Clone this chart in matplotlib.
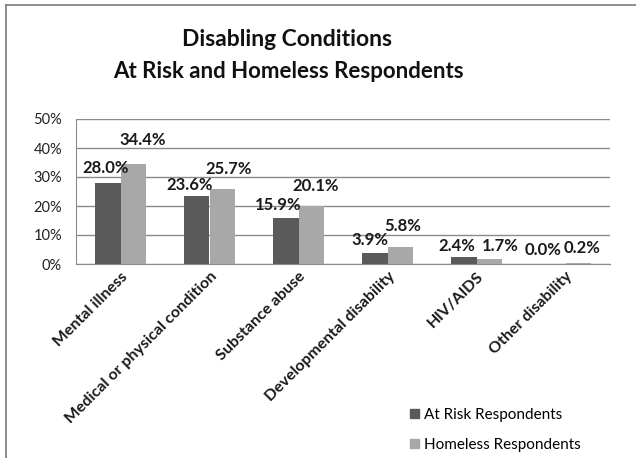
import matplotlib.pyplot as plt
import numpy as np
from matplotlib.lines import Line2D
from matplotlib.patches import Rectangle

categories = ["Mental illness", "Medical or physical condition", "Substance abuse",
              "Developmental disability", "HIV/AIDS", "Other disability"]
at_risk = [28.0, 23.6, 15.9, 3.9, 2.4, 0.0]
homeless = [34.4, 25.7, 20.1, 5.8, 1.7, 0.2]
series_names = ["At Risk Respondents", "Homeless Respondents"]
yticks = [0, 10, 20, 30, 40, 50]

# label nudges in pixels (dx, dy) -- Excel had them hand-placed
dark_nudge = [(-2, 5), (-7, 1), (-8, 3), (-5, 3), (-7, 1), (-10, 4)]
light_nudge = [(9, 14), (6, 10), (4, 10), (3, 11), (11, 3), (4, 5)]

plt.rcParams['font.family'] = ['Lato', 'DejaVu Sans']
DARK = "#5a5a5a"
LIGHT = "#a8a8a8"

fig = plt.figure(figsize=(6.36, 4.58), dpi=100)
ax = fig.add_axes([76/636, 1 - 264/458, (610-76)/636, (264-119)/458])

x = np.arange(len(categories))
w = 0.285
b1 = ax.bar(x - w/2, at_risk, w, color=DARK, label=series_names[0], zorder=3)
b2 = ax.bar(x + w/2, homeless, w, color=LIGHT, label=series_names[1], zorder=3)

for bars, vals, nudge in ((b1, at_risk, dark_nudge), (b2, homeless, light_nudge)):
    for r, v, (dx, dy) in zip(bars, vals, nudge):
        ax.annotate(f"{v:.1f}%", (r.get_x() + r.get_width()/2, v),
                    xytext=(dx, dy + 2), textcoords="offset pixels",
                    ha="center", va="bottom", fontsize=12, fontweight="bold",
                    color="#1a1a1a")

ax.set_xlim(-0.5, len(categories) - 0.5)
ax.set_ylim(0, 50)
ax.set_yticks(yticks)
ax.set_yticklabels([f"{t}%" for t in yticks], fontsize=10.5, color="#222222")
ax.yaxis.grid(True, color="#8a8a8a", linewidth=1.0, zorder=0)
ax.set_axisbelow(True)
ax.tick_params(axis="y", length=0, pad=10)
ax.tick_params(axis="x", length=0, pad=4)
ax.set_xticks(x)
ax.set_xticklabels(categories, rotation=45, ha="right", rotation_mode="anchor",
                   fontsize=11.5, fontweight="bold", color="#1a1a1a")
for s in ("top", "right"):
    ax.spines[s].set_visible(False)
ax.spines["left"].set_color("#8a8a8a")
ax.spines["bottom"].set_color("#8a8a8a")

fig.text(287/636, 1 - 46/458, "Disabling Conditions", ha="center", va="baseline",
         fontsize=16.5, fontweight="bold", color="#111111")
fig.text(288/636, 1 - 78/458, "At Risk and Homeless Respondents", ha="center", va="baseline",
         fontsize=16, fontweight="bold", color="#111111")

leg = fig.legend(handles=[Rectangle((0, 0), 1, 1, color=DARK), Rectangle((0, 0), 1, 1, color=LIGHT)],
                 labels=series_names, loc="upper left", bbox_to_anchor=(396/636, 1 - 394/458),
                 frameon=False, fontsize=11, handlelength=0.6, handleheight=0.6,
                 handletextpad=0.3, labelspacing=1.05)

fig.add_artist(Line2D([6/636, 1], [1 - 5/458, 1 - 5/458], color="#7a7a7a", lw=1.2))
fig.add_artist(Line2D([6/636, 6/636], [0, 1 - 5/458], color="#7a7a7a", lw=1.2))

fig.savefig("out.png", dpi=100)
